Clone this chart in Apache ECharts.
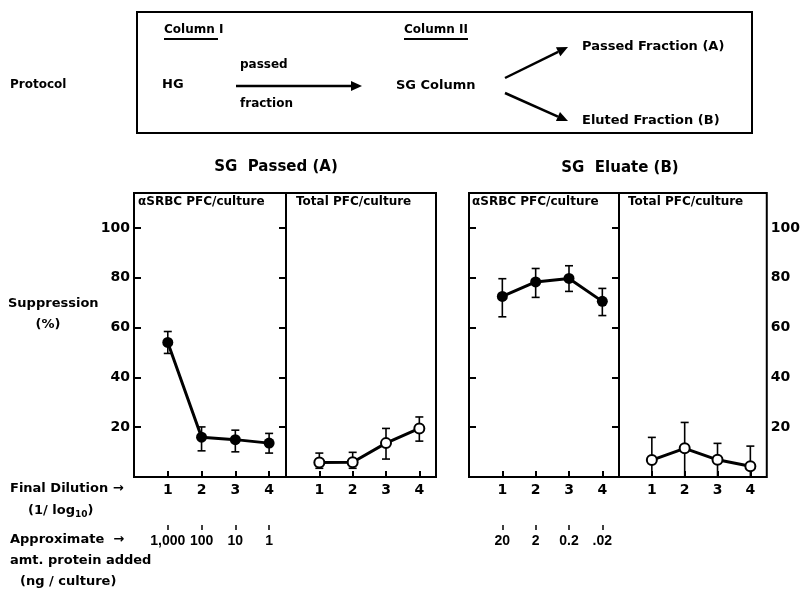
<!DOCTYPE html>
<html>
<head>
<meta charset="utf-8">
<script src="https://cdn.jsdelivr.net/npm/echarts@6/dist/echarts.min.js"></script>
<style>
  html, body { margin: 0; padding: 0; background: #fff; }
  #chart { width: 803px; height: 592px; }
</style>
</head>
<body>
<div id="chart"></div>
<script>
// data
const dilution = [1, 2, 3, 4];
const yTicks = [20, 40, 60, 80, 100];
const proteinPassed = ['1,000', '100', '10', '1'];
const proteinEluate = ['20', '2', '0.2', '.02'];

const passedSrbc = [54, 16, 15, 13.6];
const passedSrbcLow = [49.6, 10.5, 10.1, 9.6];
const passedSrbcHigh = [58.4, 20.1, 18.8, 17.5];

const passedTotal = [5.8, 5.9, 13.6, 19.5];
const passedTotalLow = [3.5, 3.5, 7.2, 14.4];
const passedTotalHigh = [9.6, 9.9, 19.5, 24.1];

const eluateSrbc = [72.5, 78.3, 79.7, 70.5];
const eluateSrbcLow = [64.3, 72.1, 74.5, 64.8];
const eluateSrbcHigh = [79.6, 83.7, 84.8, 75.7];

const eluateTotal = [6.8, 11.5, 6.9, 4.3];
const eluateTotalLow = [0, 0, 0, 0];
const eluateTotalHigh = [15.9, 21.9, 13.5, 12.4];

const FONT = '"DejaVu Sans", sans-serif';
const chart = echarts.init(document.getElementById('chart'));

function pairs(ys) { return dilution.map((x, i) => [x, ys[i]]); }
function errData(lo, hi) { return dilution.map((x, i) => [x, lo[i], hi[i]]); }

function errBars(idx, lo, hi) {
    return {
        type: 'custom', xAxisIndex: idx, yAxisIndex: idx, z: 2,
        data: errData(lo, hi),
        renderItem: (params, api) => {
            const top = api.coord([api.value(0), api.value(2)]);
            const bot = api.coord([api.value(0), api.value(1)]);
            const st = { stroke: '#000', lineWidth: 1.6 };
            return {
                type: 'group',
                children: [
                    { type: 'line', shape: { x1: top[0], y1: top[1], x2: bot[0], y2: bot[1] }, style: st },
                    { type: 'line', shape: { x1: top[0] - 4, y1: top[1], x2: top[0] + 4, y2: top[1] }, style: st },
                    { type: 'line', shape: { x1: bot[0] - 4, y1: bot[1], x2: bot[0] + 4, y2: bot[1] }, style: st }
                ]
            };
        }
    };
}

function lineSeries(idx, ys, open) {
    return {
        type: 'line', xAxisIndex: idx, yAxisIndex: idx, z: 3,
        data: pairs(ys),
        symbol: 'circle',
        symbolSize: open ? 10 : 11,
        lineStyle: { color: '#000', width: 3 },
        itemStyle: open ? { color: '#fff', borderColor: '#000', borderWidth: 2 } : { color: '#000' },
        animation: false
    };
}

const gridBase = { top: 193, height: 284, show: true, borderColor: '#000', borderWidth: 2, backgroundColor: 'transparent' };
const grids = [
    Object.assign({ left: 134, width: 152 }, gridBase),
    Object.assign({ left: 286, width: 150 }, gridBase),
    Object.assign({ left: 469, width: 150 }, gridBase),
    Object.assign({ left: 619, width: 150 }, gridBase)
];

const labelFont = { color: '#000', fontSize: 14, fontWeight: 'bold', fontFamily: FONT, hideOverlap: false };

const xAxes = grids.map((g, i) => ({
    gridIndex: i, type: 'value', min: 0, max: 4.5,
    axisLine: { show: false }, splitLine: { show: false },
    axisTick: { inside: true, length: 6, customValues: dilution, lineStyle: { color: '#000', width: 2 } },
    axisLabel: Object.assign({ customValues: dilution, margin: 6 }, labelFont)
}));
// protein amount scale under the dilution labels
[[0, proteinPassed], [2, proteinEluate]].forEach(([gi, labels]) => {
    xAxes.push({
        gridIndex: gi, type: 'value', min: 0, max: 4.5, position: 'bottom', offset: 48,
        axisLine: { show: false }, splitLine: { show: false },
        axisTick: { inside: false, length: 5, customValues: dilution, lineStyle: { color: '#000', width: 1.5 } },
        axisLabel: Object.assign({}, labelFont, { customValues: dilution, margin: 9, fontSize: 14,
            fontFamily: '"Liberation Sans", Arial, sans-serif',
            showMinLabel: true, showMaxLabel: true, formatter: v => labels[v - 1] })
    });
});

const yAxes = [0, 1, 2, 3].map(i => ({
    gridIndex: i, type: 'value', min: 0, max: 114,
    position: i % 2 === 0 ? 'left' : 'right',
    axisLine: { show: false }, splitLine: { show: false },
    axisTick: { inside: true, length: 7, customValues: yTicks, lineStyle: { color: '#000', width: 2 } },
    axisLabel: Object.assign({ show: i === 0 || i === 3, customValues: yTicks, margin: 4 }, labelFont)
}));

function txt(text, x, y, size, align, extra) {
    return {
        type: 'text', x: x, y: y, z: 10,
        style: Object.assign({ text: text, fill: '#000', font: 'bold ' + size + 'px ' + FONT,
            textAlign: align || 'left', textVerticalAlign: 'middle' }, extra || {})
    };
}
function seg(x1, y1, x2, y2, w) {
    return { type: 'line', z: 10, shape: { x1, y1, x2, y2 }, style: { stroke: '#000', lineWidth: w || 2 } };
}
function arrow(x1, y1, x2, y2) {
    const a = Math.atan2(y2 - y1, x2 - x1), L = 11, W = 5;
    const bx = x2 - L * Math.cos(a), by = y2 - L * Math.sin(a);
    return [
        seg(x1, y1, bx, by, 2.5),
        { type: 'polygon', z: 10, shape: { points: [[x2, y2],
            [bx + W * Math.sin(a), by - W * Math.cos(a)], [bx - W * Math.sin(a), by + W * Math.cos(a)]] },
          style: { fill: '#000' } }
    ];
}

const graphics = [
    { type: 'rect', z: 9, shape: { x: 137, y: 12, width: 615, height: 121 }, style: { fill: 'none', stroke: '#000', lineWidth: 2 } },
    txt('Protocol', 10, 85, 12),
    txt('Column I', 164, 30, 12), seg(164, 39, 218, 39, 2),
    txt('Column II', 404, 30, 12), seg(404, 39, 468, 39, 2),
    txt('HG', 162, 85, 13),
    txt('passed', 240, 65, 12),
    txt('fraction', 240, 104, 12),
    ...arrow(236, 86, 362, 86),
    txt('SG Column', 396, 86, 13),
    ...arrow(505, 78, 568, 47),
    ...arrow(505, 93, 568, 121),
    txt('Passed Fraction (A)', 582, 47, 13),
    txt('Eluted Fraction (B)', 582, 121, 13),

    txt('SG  Passed (A)', 276, 167, 15, 'center'),
    txt('SG  Eluate (B)', 620, 168, 15, 'center'),
    txt('αSRBC PFC/culture', 138, 202, 12),
    txt('Total PFC/culture', 296, 202, 12),
    txt('αSRBC PFC/culture', 472, 202, 12),
    txt('Total PFC/culture', 628, 202, 12),

    txt('Suppression', 8, 304, 13),
    txt('(%)', 48, 325, 13, 'center'),
    txt('Final Dilution \u2192', 10, 489, 13),
    {
        type: 'text', x: 28, y: 511, z: 10,
        style: { text: '(1/ log{s|10})', fill: '#000', font: 'bold 13px ' + FONT, textVerticalAlign: 'middle',
            rich: { s: { fontSize: 9, fontWeight: 'bold', fontFamily: FONT, padding: [8, 0, 0, 0] } } }
    },
    txt('Approximate  \u2192', 10, 540, 13),
    txt('amt. protein added', 10, 561, 13),
    txt('(ng / culture)', 20, 582, 13)
];

const option = {
    backgroundColor: '#fff',
    animation: false,
    grid: grids,
    xAxis: xAxes,
    yAxis: yAxes,
    graphic: graphics,
    series: [
        errBars(0, passedSrbcLow, passedSrbcHigh), lineSeries(0, passedSrbc, false),
        errBars(1, passedTotalLow, passedTotalHigh), lineSeries(1, passedTotal, true),
        errBars(2, eluateSrbcLow, eluateSrbcHigh), lineSeries(2, eluateSrbc, false),
        errBars(3, eluateTotalLow, eluateTotalHigh), lineSeries(3, eluateTotal, true)
    ]
};
chart.setOption(option);
window.addEventListener('resize', () => chart.resize());
</script>
</body>
</html>
